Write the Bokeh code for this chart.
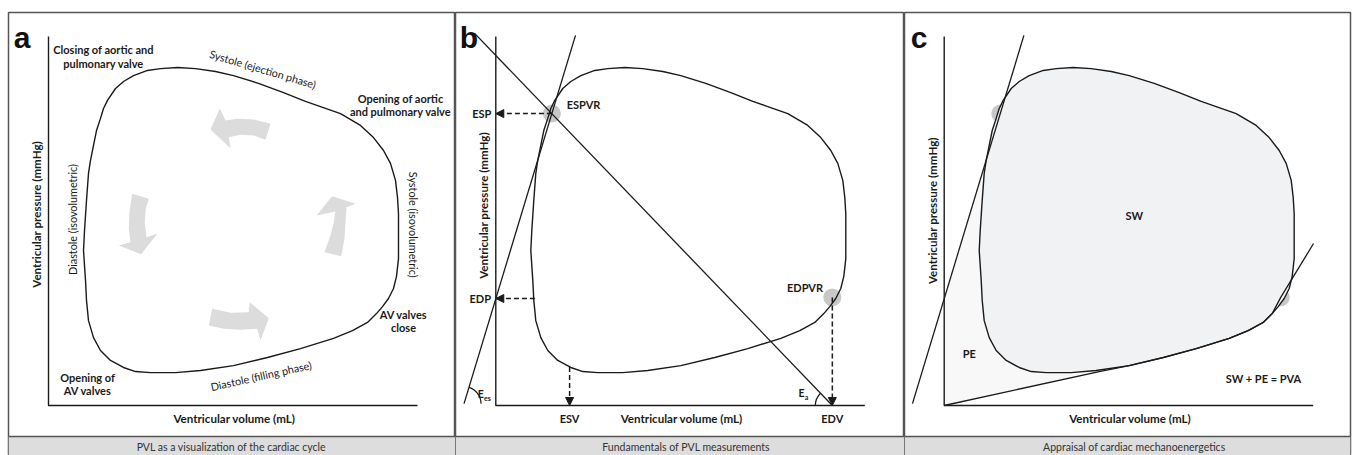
from bokeh.plotting import figure
from bokeh.layouts import row
from bokeh.models import Arrow, NormalHead, Range1d
from bokeh.core.properties import value
from bokeh.embed import file_html
from bokeh.resources import INLINE
import math

# ---------------- data (schematic units: volume 0..100, pressure 0..100) ----------------
loop_volume = [9.49, 9.76, 10.30, 10.84, 11.38, 12.20, 13.01, 14.09, 14.91, 15.99, 18.16, 20.33,
               23.04, 26.83, 30.35, 34.96, 39.84, 45.26, 50.14, 56.91, 63.69, 69.65, 73.71, 79.13,
               84.55, 88.08, 90.79, 92.68, 94.04, 94.58, 94.85, 94.85, 94.85, 94.31, 93.50, 92.14,
               90.51, 88.89, 86.45, 82.38, 77.24, 68.29, 59.35, 50.14, 41.19, 34.42, 27.64, 23.58,
               20.33, 16.80, 14.09, 12.20, 10.84, 10.30, 10.03, 9.49]
loop_pressure = [42.0, 47.4, 55.6, 62.9, 66.4, 70.5, 74.5, 77.8, 80.5, 82.7, 85.9, 87.8,
                 89.4, 90.8, 91.3, 91.6, 91.3, 90.5, 89.4, 87.3, 84.8, 82.4, 81.0, 79.1,
                 75.9, 72.6, 69.1, 65.6, 61.0, 56.4, 52.0, 47.4, 39.8, 35.0, 31.7, 29.0,
                 26.8, 24.9, 22.5, 20.3, 18.2, 15.4, 13.0, 10.8, 9.5, 8.9, 8.9, 9.2,
                 10.3, 12.2, 14.9, 18.4, 23.0, 28.5, 33.9, 42.0]

esp_volume, esp = 15.2, 79.1          # end-systolic point
edp_volume, edp = 10.6, 29.0          # end-diastolic pressure read on the loop
esv, esv_pressure = 20.0, 10.4        # end-systolic volume
edv, edv_pressure = 91.2, 29.3        # end-diastolic point (EDPVR)

espvr_volume = [-8.6, 21.6]
espvr_pressure = [0.5, 100.3]
ea_volume = [-5.8, 91.2]
ea_pressure = [100.9, 0.0]

edpvr_volume = [0.0, 42.0, 50.14, 59.35, 68.29, 77.24, 82.38, 86.45, 88.89, 91.2, 100.1]
edpvr_pressure = [0.0, 9.2, 10.8, 13.0, 15.4, 18.2, 20.3, 22.5, 24.9, 29.3, 43.9]

pe_volume = [0.0, 0.0, 15.2, 42.0]
pe_pressure = [0.0, 28.9, 79.1, 9.2]

# curved phase arrows of panel a
arrow_top_x = [60.16, 55.64, 51.14, 47.97, 46.42, 43.90, 49.32, 48.86, 52.03, 55.64, 58.81]
arrow_top_y = [76.34, 77.51, 77.70, 77.24, 80.49, 74.80, 69.73, 72.71, 73.36, 73.17, 72.00]
arrow_right_x = [74.80, 76.42, 77.32, 77.78, 72.63, 76.88, 83.20, 80.76, 80.49, 80.22, 79.32]
arrow_right_y = [41.54, 46.07, 49.67, 52.57, 51.49, 56.72, 54.66, 53.74, 49.67, 45.18, 40.46]
arrow_left_x = [22.68, 21.95, 21.76, 22.22, 19.05, 25.12, 29.46, 26.56, 26.10, 26.37, 27.18]
arrow_left_y = [57.37, 52.39, 47.89, 44.25, 43.36, 41.00, 46.53, 45.61, 49.67, 53.31, 56.02]
arrow_bottom_x = [44.36, 49.32, 54.28, 54.55, 59.70, 57.45, 56.56, 52.03, 47.51, 43.44]
arrow_bottom_y = [26.21, 25.12, 25.28, 28.00, 23.66, 17.62, 20.79, 20.52, 20.79, 21.68]

captions = ["PVL as a visualization of the cardiac cycle",
            "Fundamentals of PVL measurements",
            "Appraisal of cardiac mechanoenergetics"]
panel_letters = ["a", "b", "c"]
x_label = "Ventricular volume (mL)"
y_label = "Ventricular pressure (mmHg)"

# ---------------- styling ----------------
FONT = value("Lato")
BLACK = "#1a1a1a"
Y0, Y1 = -13.55, 106.5
CAP_TOP = -8.4
BOLD = "11px"
AXIS = "11.6px"
REG = "10.8px"


def panel(width, x0, x1, left=0, right=0):
    p = figure(width=width + left + right, height=455, x_range=Range1d(x0, x1), y_range=Range1d(Y0, Y1),
               output_backend="svg", toolbar_location=None,
               x_axis_location=None, y_axis_location=None,
               min_border_left=left, min_border_right=right, min_border_bottom=0, min_border_top=12)
    p.grid.visible = False
    p.outline_line_color = "#555555"
    p.outline_line_width = 1.5
    p.background_fill_color = "white"
    p.border_fill_color = "white"
    # caption band
    p.quad(left=[x0], right=[x1], bottom=[Y0], top=[CAP_TOP], fill_color="#dddddd", line_color=None)
    p.segment(x0=[x0], y0=[CAP_TOP], x1=[x1], y1=[CAP_TOP], line_color="#555555", line_width=1.5)
    return p


def axes(p):
    p.line([0, 0, 100], [100, 0, 0], line_color=BLACK, line_width=1.4)


def txt(p, x, y, t, size=BOLD, bold=True, angle=0.0, align="center", baseline="middle", color=BLACK):
    p.text(x=[x], y=[y], text=[t], text_font=FONT, text_font_size=size,
           text_font_style="bold" if bold else "normal", text_align=align,
           text_baseline=baseline, angle=angle, text_color=color)


def letter(p, x, t):
    p.text(x=[x], y=[99.6], text=[t], text_font=value("Liberation Sans"), text_font_size="30px",
           text_font_style="bold", text_align="left", text_baseline="alphabetic", text_color="#111111")


def common_labels(p, ylab_y, caption, cap_x):
    txt(p, 50.4, -3.5, x_label, size=AXIS)
    txt(p, -3.2, ylab_y, y_label, size=AXIS, angle=math.pi / 2)
    txt(p, cap_x, -11.3, caption, size="10.5px", bold=False, color="#333333")


# ---------------- panel a ----------------
pa = panel(447, -10.84, 110.30, left=8)
for ax_, ay_ in [(arrow_top_x, arrow_top_y), (arrow_right_x, arrow_right_y),
                 (arrow_left_x, arrow_left_y), (arrow_bottom_x, arrow_bottom_y)]:
    pa.patch(ax_, ay_, fill_color="#dcdcdc", line_color=None)
pa.line(loop_volume, loop_pressure, line_color=BLACK, line_width=1.4)
axes(pa)
letter(pa, -9.4, panel_letters[0])
common_labels(pa, 51.8, captions[0], 49.6)
txt(pa, 14.9, 96.5, "Closing of aortic and")
txt(pa, 14.9, 92.7, "pulmonary valve")
txt(pa, 58.1, 91.2, "Systole (ejection phase)", size=REG, bold=False, angle=math.radians(-16.5))
txt(pa, 95.4, 83.2, "Opening of aortic")
txt(pa, 95.4, 79.7, "and pulmonary valve")
txt(pa, 98.9, 49.0, "Systole (isovolumetric)", size=REG, bold=False, angle=-math.pi / 2)
txt(pa, 6.5, 50.4, "Diastole (isovolumetric)", size=REG, bold=False, angle=math.pi / 2)
txt(pa, 96.2, 24.7, "AV valves")
txt(pa, 96.2, 21.1, "close")
txt(pa, 10.6, 7.6, "Opening of")
txt(pa, 10.6, 4.1, "AV valves")
txt(pa, 57.6, 8.1, "Diastole (filling phase)", size=REG, bold=False, angle=math.radians(12.5))

# ---------------- panel b ----------------
pb = panel(449, -10.92, 110.76)
pb.circle(x=[esp_volume, edv], y=[esp, edv_pressure], radius=2.44, fill_color="#c8c8c8", line_color=None)
pb.line(loop_volume, loop_pressure, line_color=BLACK, line_width=1.4)
pb.line(espvr_volume, espvr_pressure, line_color=BLACK, line_width=1.3)
pb.line(ea_volume, ea_pressure, line_color=BLACK, line_width=1.3)
axes(pb)
for xs, ys, xe, ye in [(esp_volume, esp, 0.0, esp), (edp_volume, edp, 0.0, edp),
                       (esv, esv_pressure, esv, 0.0), (edv, edv_pressure, edv, 0.0)]:
    pb.add_layout(Arrow(end=NormalHead(size=8, fill_color=BLACK, line_color=BLACK, line_width=1),
                        x_start=xs, y_start=ys, x_end=xe, y_end=ye,
                        line_color=BLACK, line_width=1.5, line_dash="5 3"))
# angle arcs
ees_ang = math.atan2(espvr_pressure[1] - espvr_pressure[0], espvr_volume[1] - espvr_volume[0])
pb.arc(x=[espvr_volume[0]], y=[espvr_pressure[0]], radius=4.6, start_angle=0.0, end_angle=ees_ang,
       line_color=BLACK, line_width=1.2)
ea_ang = math.atan2(ea_pressure[0] - ea_pressure[1], ea_volume[0] - ea_volume[1])
pb.arc(x=[edv], y=[0.0], radius=4.6, start_angle=ea_ang, end_angle=math.pi,
       line_color=BLACK, line_width=1.2)
letter(pb, -9.8, panel_letters[1])
common_labels(pb, 54.2, captions[1], 51.6)
txt(pb, -1.2, esp, "ESP", align="right")
txt(pb, -1.3, edp, "EDP", align="right")
txt(pb, 19.2, 81.6, "ESPVR", align="left")
txt(pb, 83.8, 32.1, "EDPVR")
txt(pb, esv, -3.5, "ESV")
txt(pb, edv, -3.5, "EDV")
txt(pb, -4.9, 3.0, "E", size="10.5px", align="left")
txt(pb, -3.2, 2.1, "es", size="7px", align="left")
txt(pb, 82.0, 3.4, "E", size="10.5px", align="left")
txt(pb, 83.7, 2.4, "a", size="7px", align="left")

# ---------------- panel c ----------------
pc = panel(446, -10.76, 110.11, right=3)
pc.patch(pe_volume, pe_pressure, fill_color="#f8f8f8", line_color=None)
pc.circle(x=[esp_volume, edv], y=[esp, edv_pressure], radius=2.44, fill_color="#c8c8c8", line_color=None)
pc.patch(loop_volume, loop_pressure, fill_color="#f1f2f4", line_color=BLACK, line_width=1.4)
pc.line(espvr_volume, espvr_pressure, line_color=BLACK, line_width=1.3)
pc.line(edpvr_volume, edpvr_pressure, line_color=BLACK, line_width=1.3)
axes(pc)
letter(pc, -9.1, panel_letters[2])
common_labels(pc, 52.8, captions[2], 51.5)
txt(pc, 51.5, 51.5, "SW")
txt(pc, 6.8, 14.0, "PE")
txt(pc, 86.5, 7.4, "SW + PE = PVA")

layout = row(pa, pb, pc)
open("out.html", "w").write(file_html(layout, INLINE))
